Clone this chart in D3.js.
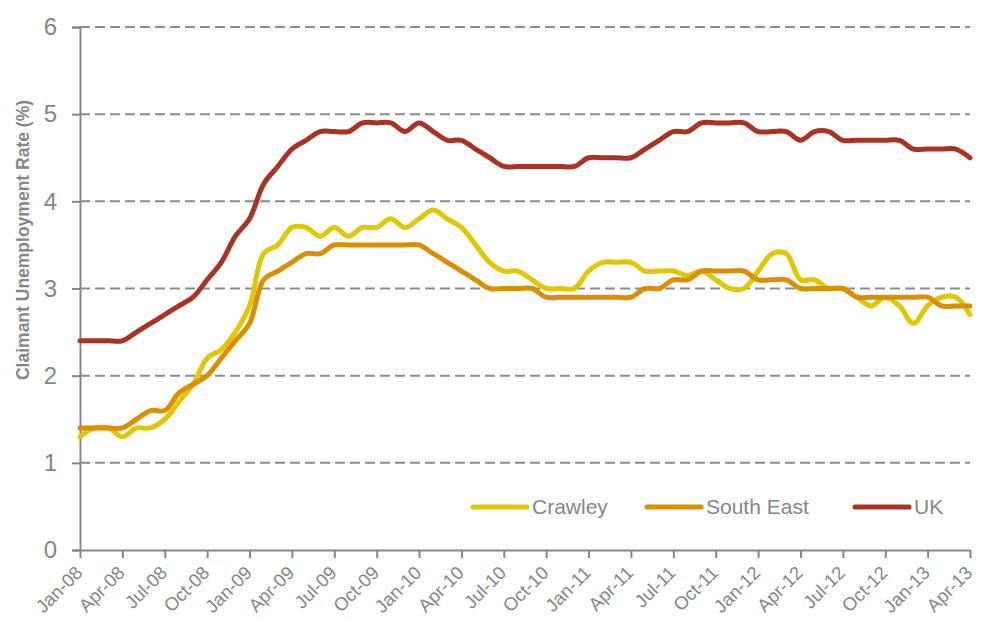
<!DOCTYPE html>
<html>
<head>
<meta charset="utf-8">
<script src="https://cdn.jsdelivr.net/npm/d3@7"></script>
<style>
  body { margin: 0; background: #fff; }
  text { font-family: "Liberation Sans", Arial, sans-serif; }
</style>
</head>
<body>
<div id="chart"></div>
<script>
// month labels, Jan-08 .. Apr-13
var months = [];
var mNames = ["Jan","Feb","Mar","Apr","May","Jun","Jul","Aug","Sep","Oct","Nov","Dec"];
for (var yr = 8; yr <= 13; yr++) {
  mNames.forEach(function(m, i) {
    if (yr === 13 && i > 3) return;
    months.push(m + "-" + (yr < 10 ? "0" + yr : yr));
  });
}

var crawley = [1.3,1.4,1.4,1.3,1.4,1.4,1.5,1.7,1.9,2.2,2.3,2.5,
               2.8,3.4,3.5,3.7,3.7,3.6,3.7,3.6,3.7,3.7,3.8,3.7,
               3.8,3.9,3.8,3.7,3.5,3.3,3.2,3.2,3.1,3.0,3.0,3.0,
               3.2,3.3,3.3,3.3,3.2,3.2,3.2,3.15,3.2,3.1,3.0,3.0,
               3.2,3.4,3.4,3.1,3.1,3.0,3.0,2.9,2.8,2.9,2.8,2.6,
               2.8,2.9,2.9,2.7];

var southEast = [1.4,1.4,1.4,1.4,1.5,1.6,1.6,1.8,1.9,2.0,2.2,2.4,
                 2.6,3.1,3.2,3.3,3.4,3.4,3.5,3.5,3.5,3.5,3.5,3.5,
                 3.5,3.4,3.3,3.2,3.1,3.0,3.0,3.0,3.0,2.9,2.9,2.9,
                 2.9,2.9,2.9,2.9,3.0,3.0,3.1,3.1,3.2,3.2,3.2,3.2,
                 3.1,3.1,3.1,3.0,3.0,3.0,3.0,2.9,2.9,2.9,2.9,2.9,
                 2.9,2.8,2.8,2.8];

var uk = [2.4,2.4,2.4,2.4,2.5,2.6,2.7,2.8,2.9,3.1,3.3,3.6,
          3.8,4.2,4.4,4.6,4.7,4.8,4.8,4.8,4.9,4.9,4.9,4.8,
          4.9,4.8,4.7,4.7,4.6,4.5,4.4,4.4,4.4,4.4,4.4,4.4,
          4.5,4.5,4.5,4.5,4.6,4.7,4.8,4.8,4.9,4.9,4.9,4.9,
          4.8,4.8,4.8,4.7,4.8,4.8,4.7,4.7,4.7,4.7,4.7,4.6,
          4.6,4.6,4.6,4.5];

var seriesNames = ["Crawley", "South East", "UK"];
var seriesColors = ["#e0c700", "#d98f00", "#a93222"];
var yTicks = [0, 1, 2, 3, 4, 5, 6];

var series = [crawley, southEast, uk].map(function(vals, i) {
  return { name: seriesNames[i], color: seriesColors[i], values: vals };
});

var margin = {top: 27, right: 11, bottom: 71, left: 80},
  width = 981 - margin.left - margin.right,
  height = 621 - margin.top - margin.bottom;

var svg = d3.select("#chart")
  .append("svg")
    .attr("width", 981)
    .attr("height", 621)
  .append("g")
    .attr("transform", "translate(" + margin.left + "," + margin.top + ")");

var x = d3.scalePoint().domain(months).range([0, width]);
var y = d3.scaleLinear().domain([0, 6]).range([height, 0]);

var gray = "#868686";

// dashed gridlines
svg.append("g")
  .selectAll("line")
  .data(yTicks.filter(function(d) { return d > 0; }))
  .enter().append("line")
    .attr("x1", 0)
    .attr("x2", width)
    .attr("y1", function(d) { return y(d); })
    .attr("y2", function(d) { return y(d); })
    .attr("stroke", "#8c8c8c")
    .attr("stroke-width", 2)
    .attr("stroke-dasharray", "10,5");

// Y axis
var yAxis = svg.append("g")
  .call(d3.axisLeft(y).tickValues(yTicks).tickSize(8).tickPadding(15).tickFormat(d3.format("d")));
yAxis.select(".domain").attr("stroke", gray).attr("stroke-width", 2);
yAxis.selectAll(".tick line").attr("stroke", gray).attr("stroke-width", 2);
yAxis.selectAll(".tick text")
  .attr("fill", gray)
  .style("font-size", "24px");

// X axis
var xTicks = months.filter(function(d, i) { return i % 3 === 0; });
var xAxis = svg.append("g")
  .attr("transform", "translate(0," + height + ")")
  .call(d3.axisBottom(x).tickValues(xTicks).tickSize(8).tickSizeOuter(0));
xAxis.select(".domain").attr("stroke", gray).attr("stroke-width", 2);
xAxis.selectAll(".tick line").attr("stroke", gray).attr("stroke-width", 2);
xAxis.selectAll(".tick text")
  .attr("fill", gray)
  .style("font-size", "18.5px")
  .style("text-anchor", "end")
  .attr("x", 0)
  .attr("y", 0)
  .attr("dy", 0)
  .attr("transform", "translate(3,24) rotate(-45)");

// Y axis label
svg.append("text")
  .attr("transform", "translate(" + (23 - margin.left) + "," + (240 - margin.top) + ") rotate(-90)")
  .attr("text-anchor", "middle")
  .attr("dy", "0.35em")
  .attr("fill", gray)
  .style("font-size", "17.5px")
  .style("font-weight", "bold")
  .text("Claimant Unemployment Rate (%)");

// lines
var line = d3.line()
  .x(function(d, i) { return x(months[i]); })
  .y(function(d) { return y(d); })
  .curve(d3.curveCatmullRom.alpha(0.5));

svg.selectAll(".series")
  .data(series)
  .enter().append("path")
    .attr("class", "series")
    .attr("d", function(d) { return line(d.values); })
    .attr("fill", "none")
    .attr("stroke", function(d) { return d.color; })
    .attr("stroke-width", 5)
    .attr("stroke-linejoin", "round")
    .attr("stroke-linecap", "round");

// legend
var legendX = [473, 647, 855];
var legend = svg.selectAll(".legend")
  .data(series)
  .enter().append("g")
    .attr("class", "legend")
    .attr("transform", function(d, i) {
      return "translate(" + (legendX[i] - margin.left) + "," + (507 - margin.top) + ")";
    });

legend.append("line")
  .attr("x1", 0)
  .attr("x2", 54)
  .attr("stroke", function(d) { return d.color; })
  .attr("stroke-width", 5)
  .attr("stroke-linecap", "round");

legend.append("text")
  .attr("x", 59)
  .attr("dy", "0.35em")
  .attr("fill", gray)
  .style("font-size", "21px")
  .text(function(d) { return d.name; });
</script>
</body>
</html>
